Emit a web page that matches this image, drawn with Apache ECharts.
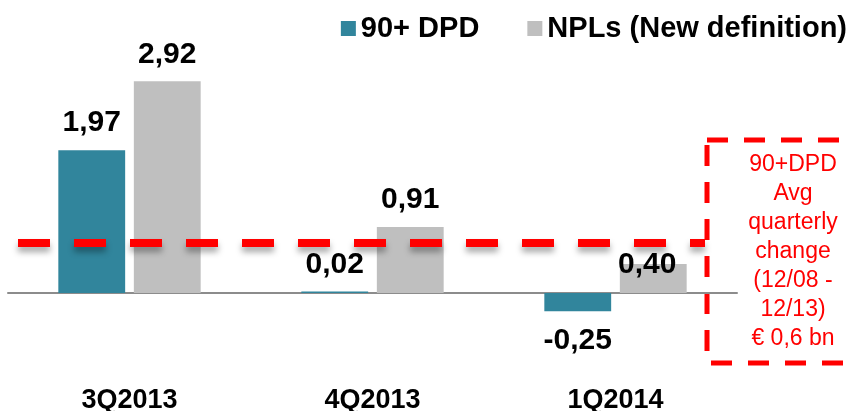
<!DOCTYPE html>
<html>
<head>
<meta charset="utf-8">
<script src="https://cdn.jsdelivr.net/npm/echarts@6/dist/echarts.min.js"></script>
<style>
html,body{margin:0;padding:0;background:#fff;}
#c{width:854px;height:411px;}
</style>
</head>
<body>
<div id="c"></div>
<script>
var categories = ['3Q2013', '4Q2013', '1Q2014'];
var dpd90 = [1.97, 0.02, -0.25];
var npls = [2.92, 0.91, 0.40];
var avgChange = 0.70;
var seriesNames = ['90+ DPD', 'NPLs (New definition)'];
var noteLines = ['90+DPD', 'Avg', 'quarterly', 'change', '(12/08 -', '12/13)', '\u20ac 0,6 bn'];

function fmt(v){ return v.toFixed(2).replace('.', ','); }

var chart = echarts.init(document.getElementById('c'), null, {renderer:'canvas'});
var labelBase = {
  show: true, position: 'top', distance: 12,
  fontFamily: 'Liberation Sans, Arial, sans-serif', fontWeight: 'bold', fontSize: 30, color: '#000',
  formatter: function(p){ return fmt(p.value); }
};

var dpdData = dpd90.map(function(v){
  var d = {value: v};
  if (v < 0) d.label = {position: 'bottom', distance: 15};
  return d;
});
var nplData = npls.map(function(v, i){
  var d = {value: v};
  if (i === 2) d.label = {offset: [-6, 28]};
  return d;
});

chart.setOption({
  animation: false,
  legend: {
    top: 9, right: 2,
    itemWidth: 15, itemHeight: 15, itemGap: 48,
    icon: 'rect',
    textStyle: {fontFamily: 'Liberation Sans, Arial, sans-serif', fontWeight: 'bold', fontSize: 29, color: '#000'},
    data: seriesNames
  },
  grid: {left: 8, right: 117, top: 39.25, bottom: 81.75, containLabel: false, outerBoundsMode: 'none'},
  xAxis: {
    type: 'category', data: categories,
    axisLine: {lineStyle: {color: '#8c8c8c', width: 2}},
    axisTick: {show: false},
    axisLabel: {show: true, interval: 0, margin: 58,
      fontFamily: 'Liberation Sans, Arial, sans-serif', fontWeight: 'bold', fontSize: 27, color: '#000'}
  },
  yAxis: {
    type: 'value', min: -0.5, max: 3.5, show: false, splitLine: {show: false}
  },
  series: [
    {
      name: seriesNames[0], type: 'bar', data: dpdData,
      barWidth: '27.5%', barGap: '13%',
      itemStyle: {color: '#31859C'},
      label: labelBase,
      markLine: {
        silent: true, symbol: 'none', label: {show: false},
        lineStyle: {color: '#FF0000', width: 8, type: [32, 24],
          shadowColor: 'rgba(0,0,0,0.35)', shadowBlur: 6, shadowOffsetY: 5},
        data: [[{x: 18, yAxis: avgChange}, {x: 705, yAxis: avgChange}]]
      }
    },
    {
      name: seriesNames[1], type: 'bar', data: nplData,
      barWidth: '27.5%', barGap: '13%',
      itemStyle: {color: '#BFBFBF'},
      label: labelBase
    }
  ],
  graphic: [
    {type: 'rect', shape: {x: 707, y: 140, width: 160, height: 223},
     style: {fill: 'none', stroke: '#FF0000', lineWidth: 5, lineDash: [21, 16]}},
    {type: 'text', x: 793, y: 252,
     style: {text: noteLines.join('\n'), fill: '#FF0000', fontFamily: 'Liberation Sans, Arial, sans-serif',
       fontSize: 23, lineHeight: 29, align: 'center', verticalAlign: 'middle'}}
  ]
});
</script>
</body>
</html>
